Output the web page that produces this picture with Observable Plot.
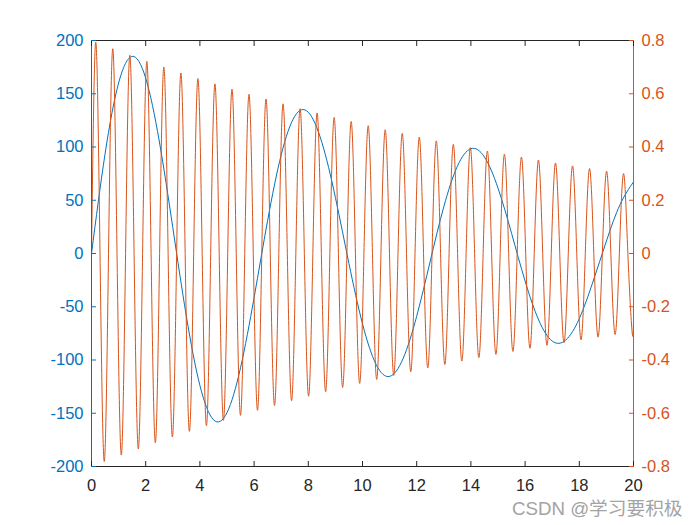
<!DOCTYPE html>
<html>
<head>
<meta charset="utf-8">
<script src="https://cdn.jsdelivr.net/npm/d3@7"></script>
<script src="https://cdn.jsdelivr.net/npm/@observablehq/plot@0.6"></script>
<style>
  body { margin: 0; background: #fff; }
  #wrap { position: relative; width: 700px; height: 525px; }
  #mark { position: absolute; left: 512px; top: 493px; font: 18.7px "Liberation Sans", "Noto Sans CJK SC", sans-serif; color: #a3a3a3; white-space: nowrap; }
</style>
</head>
<body>
<div id="wrap"><div id="chart"></div><div id="mark">CSDN @学习要积极</div></div>
<script>
// Left series (blue)
const x1 = [0,0.5,1,1.5,2,2.5,3,3.5,4,4.5,5,5.5,6,6.5,7,7.5,8,8.5,9,9.5,10,10.5,11,11.5,12,12.5,13,13.5,14,14.5,15,15.5,16,16.5,17,17.5,18,18.5,19,19.5,20];
const y1 = [0,93.5,160.1,185.1,164.6,105.6,24.3,-58.9,-123.9,-156.1,-149.4,-107.2,-41.4,31.1,92.6,128.9,132.6,104.4,52.6,-9.4,-66.0,-104.1,-115.4,-98.5,-58.9,-7.1,43.9,81.9,98.4,90.6,61.4,19.0,-25.9,-62.4,-82.2,-81.3,-61.1,-26.8,11.6,45.7,67.2];

// Right series (orange): zero crossings and extrema
const x2 = [0,0.157,0.314,0.471,0.628,0.785,0.942,1.100,1.257,1.414,1.571,1.728,1.885,2.042,2.199,2.356,2.513,2.670,2.827,2.985,3.142,3.299,3.456,3.613,3.770,3.927,4.084,4.241,4.398,4.555,4.712,4.869,5.027,5.184,5.341,5.498,5.655,5.812,5.969,6.126,6.283,6.440,6.597,6.754,6.912,7.069,7.226,7.383,7.540,7.697,7.854,8.011,8.168,8.325,8.482,8.639,8.796,8.954,9.111,9.268,9.425,9.582,9.739,9.896,10.053,10.210,10.367,10.524,10.681,10.838,10.996,11.153,11.310,11.467,11.624,11.781,11.938,12.095,12.252,12.409,12.566,12.723,12.881,13.038,13.195,13.352,13.509,13.666,13.823,13.980,14.137,14.294,14.451,14.608,14.765,14.923,15.080,15.237,15.394,15.551,15.708,15.865,16.022,16.179,16.336,16.493,16.650,16.808,16.965,17.122,17.279,17.436,17.593,17.750,17.907,18.064,18.221,18.378,18.535,18.692,18.850,19.007,19.164,19.321,19.478,19.635,19.792,19.949,20];
const y2 = [0,0.794,0,-0.781,0,0.769,0,-0.757,0,0.745,0,-0.734,0,0.722,0,-0.711,0,0.700,0,-0.689,0,0.678,0,-0.668,0,0.657,0,-0.647,0,0.637,0,-0.627,0,0.617,0,-0.608,0,0.598,0,-0.589,0,0.580,0,-0.571,0,0.562,0,-0.553,0,0.544,0,-0.536,0,0.528,0,-0.519,0,0.511,0,-0.503,0,0.496,0,-0.488,0,0.480,0,-0.473,0,0.465,0,-0.458,0,0.451,0,-0.444,0,0.437,0,-0.430,0,0.423,0,-0.417,0,0.410,0,-0.404,0,0.398,0,-0.391,0,0.385,0,-0.379,0,0.373,0,-0.368,0,0.362,0,-0.356,0,0.351,0,-0.345,0,0.340,0,-0.335,0,0.329,0,-0.324,0,0.319,0,-0.314,0,0.309,0,-0.304,0,0.300,0,-0.295,-0.257];

const xTicks = [0,2,4,6,8,10,12,14,16,18,20];
const yLeftTicks = [-200,-150,-100,-50,0,50,100,150,200];
const yRightTicks = [-0.8,-0.6,-0.4,-0.2,0,0.2,0.4,0.6,0.8];

const blue = "#0072BD", orange = "#D95319", dark = "#262626";
const leftDomain = [-200, 200], rightDomain = [-0.8, 0.8];
const k = leftDomain[1] / rightDomain[1]; // map right values onto left scale

const d1 = x1.map((x, i) => ({x, y: y1[i]}));
const d2 = x2.map((x, i) => ({x, y: y2[i] * k}));

const chart = Plot.plot({
  width: 700, height: 525,
  marginLeft: 91, marginRight: 67, marginTop: 40, marginBottom: 59,
  style: {fontFamily: "'Liberation Sans', Arial, sans-serif", fontSize: "16.5px", background: "#fff"},
  x: {domain: [0, 20], nice: false},
  y: {domain: leftDomain, nice: false},
  marks: [
    Plot.line(d1, {x: "x", y: "y", stroke: blue, strokeWidth: 1, curve: "natural"}),
    Plot.line(d2, {x: "x", y: "y", stroke: orange, strokeWidth: 1, curve: "natural"}),
    Plot.ruleY([leftDomain[0], leftDomain[1]], {stroke: dark, strokeWidth: 1}),
    Plot.ruleX([0], {stroke: blue, strokeWidth: 1}),
    Plot.ruleX([20], {stroke: orange, strokeWidth: 1}),
    Plot.axisX({anchor: "bottom", ticks: xTicks, tickSize: -5, tickPadding: 18, tickFormat: d => String(d), color: dark, stroke: dark, fill: dark, label: null}),
    Plot.axisX({anchor: "top", ticks: xTicks, tickSize: -5, tickFormat: () => "", stroke: dark, label: null}),
    Plot.axisY({anchor: "left", ticks: yLeftTicks, tickSize: -5, tickPadding: 13, tickFormat: d => String(d), color: blue, stroke: blue, fill: blue, label: null}),
    Plot.axisY({anchor: "right", ticks: yRightTicks.map(v => v * k), tickSize: -5, tickPadding: 13, tickFormat: d => String(+(d / k).toFixed(1)), color: orange, stroke: orange, fill: orange, label: null})
  ]
});
document.getElementById("chart").appendChild(chart);
</script>
</body>
</html>
